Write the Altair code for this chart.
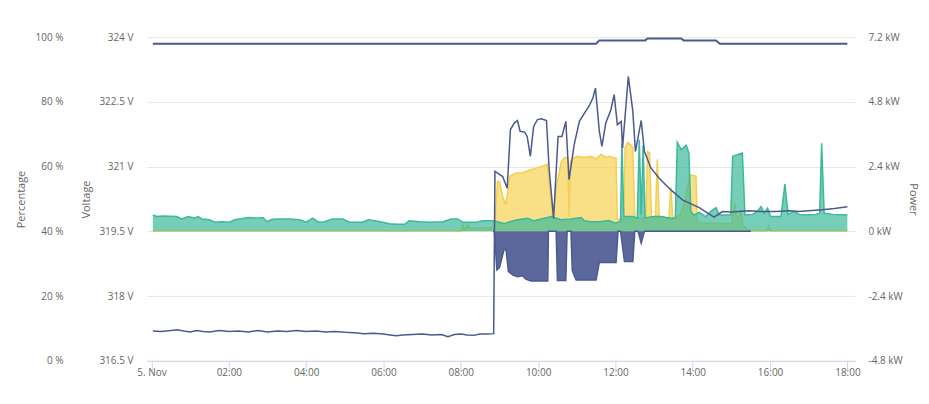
import altair as alt
import pandas as pd
from datetime import datetime

DAY = "2023-11-05"

# State of charge (%)
soc_time = ["00:02", "11:30", "11:35", "12:46", "12:50", "13:42", "13:46", "14:36", "14:42", "18:00"]
soc_pct = [98, 98, 99, 99, 99.6, 99.6, 99, 99, 98, 98]

# Voltage (V)
volt_time = ["00:02", "00:15", "00:30", "00:40", "00:50", "01:00", "01:10", "01:20", "01:30", "01:45",
             "02:00", "02:15", "02:30", "02:45", "03:00", "03:15", "03:30", "03:45", "04:00", "04:15",
             "04:30", "04:45", "05:00", "05:15", "05:30", "05:45", "06:00", "06:10", "06:20", "06:30",
             "06:45", "07:00", "07:15", "07:30", "07:40", "07:50", "08:00", "08:10", "08:20", "08:30",
             "08:40", "08:51", "08:53", "08:57", "09:05", "09:12", "09:17", "09:23", "09:28", "09:32",
             "09:39", "09:43", "09:48", "09:53", "09:59", "10:05", "10:13", "10:17", "10:24", "10:31",
             "10:37", "10:43", "10:48", "10:56", "11:04", "11:12", "11:19", "11:25", "11:29", "11:35",
             "11:39", "11:45", "11:53", "11:58", "12:03", "12:09", "12:11", "12:20", "12:27", "12:31",
             "12:40", "12:45", "12:55", "13:08", "13:26", "13:44", "14:10", "14:33", "14:46", "15:00",
             "15:28", "15:45", "16:09", "16:30", "16:45", "17:00", "17:21", "17:40", "18:00"]
volt_v = [317.19, 317.18, 317.20, 317.22, 317.19, 317.17, 317.20, 317.18, 317.17, 317.20,
          317.18, 317.19, 317.17, 317.20, 317.17, 317.19, 317.18, 317.20, 317.18, 317.19,
          317.17, 317.18, 317.16, 317.15, 317.13, 317.14, 317.12, 317.10, 317.08, 317.10,
          317.11, 317.12, 317.10, 317.11, 317.06, 317.11, 317.12, 317.10, 317.09, 317.12,
          317.12, 317.13, 320.89, 320.85, 320.77, 320.50, 321.86, 322.01, 322.07, 321.82,
          321.80, 321.70, 321.24, 321.93, 322.09, 322.11, 322.07, 320.97, 319.80, 321.70,
          321.70, 322.05, 320.70, 321.51, 322.05, 322.24, 322.40, 322.59, 322.82, 321.82,
          321.47, 322.01, 322.32, 322.67, 321.97, 322.05, 321.43, 323.09, 322.28, 321.35,
          322.07, 321.35, 320.97, 320.73, 320.46, 320.23, 320.05, 319.83, 319.96, 319.95,
          319.98, 319.96, 319.96, 319.98, 319.96, 319.98, 320.00, 320.03, 320.07]

# PV production (kW)
pv_time = ["00:02", "08:00", "08:03", "08:06", "08:11", "08:14", "08:30", "08:50", "08:53", "08:57",
           "09:00", "09:05", "09:10", "09:16", "09:26", "09:34", "09:44", "09:54", "10:05", "10:14",
           "10:23", "10:28", "10:36", "10:41", "10:46", "10:48", "10:50", "10:54", "11:01", "11:12",
           "11:22", "11:30", "11:38", "11:45", "11:50", "11:58", "12:01", "12:03", "12:13", "12:15",
           "12:19", "12:24", "12:27", "12:30", "12:47", "12:50", "12:53", "12:56", "13:02", "13:05",
           "13:08", "13:23", "13:26", "13:29", "13:40", "13:46", "13:52", "13:55", "14:05", "14:07",
           "14:20", "14:40", "15:00", "15:05", "15:09", "15:15", "15:18", "15:30", "15:55", "15:58",
           "16:01", "18:00"]
pv_kw = [0, 0, 0.25, 0.05, 0.25, 0.12, 0.12, 0.15, 0.3, 1.85,
         1.85, 1.29, 0.98, 2.04, 2.16, 2.16, 2.25, 2.32, 2.41, 2.49,
         0.45, 1.60, 2.59, 2.74, 2.72, 0.55, 2.60, 2.72, 2.78, 2.74,
         2.78, 2.69, 2.86, 2.74, 2.78, 2.72, 2.72, 0.45, 0.45, 3.10,
         3.30, 3.20, 3.10, 0.50, 0.50, 2.96, 2.90, 0.50, 0.50, 2.66,
         0.50, 0.50, 1.63, 0.50, 0.60, 1.00, 1.60, 2.10, 2.05, 0.35,
         0.30, 0.30, 0.28, 1.04, 0.40, 0.80, 0.20, 0, 0, 0.18,
         0, 0]

# Consumption (kW)
load_time = ["00:02", "00:08", "00:18", "00:39", "00:47", "00:57", "01:07", "01:12", "01:18", "01:30",
             "01:38", "01:49", "02:01", "02:09", "02:17", "02:30", "02:43", "02:53", "02:59", "03:06",
             "03:16", "03:34", "03:50", "04:00", "04:10", "04:18", "04:26", "04:41", "04:57", "05:07",
             "05:28", "05:36", "05:44", "05:59", "06:09", "06:20", "06:33", "06:40", "06:56", "07:11",
             "07:32", "07:45", "07:55", "08:03", "08:24", "08:34", "08:50", "09:00", "09:08", "09:16",
             "09:28", "09:44", "09:54", "10:05", "10:20", "10:36", "10:51", "11:07", "11:12", "11:22",
             "11:35", "11:50", "12:00", "12:06", "12:08", "12:10", "12:13", "12:27", "12:34", "12:37",
             "12:40", "12:43", "12:46", "12:58", "13:11", "13:26", "13:33", "13:36", "13:42", "13:50",
             "13:54", "13:57", "14:02", "14:10", "14:20", "14:28", "14:36", "14:41", "14:59", "15:02",
             "15:17", "15:21", "15:33", "15:40", "15:46", "15:51", "15:56", "16:01", "16:17", "16:23",
             "16:28", "16:37", "16:45", "16:55", "17:11", "17:17", "17:20", "17:24", "17:37", "18:00"]
load_kw = [0.61, 0.55, 0.57, 0.55, 0.46, 0.55, 0.49, 0.55, 0.46, 0.43,
           0.34, 0.36, 0.34, 0.43, 0.46, 0.51, 0.49, 0.51, 0.36, 0.44,
           0.46, 0.46, 0.43, 0.34, 0.49, 0.36, 0.34, 0.46, 0.46, 0.34,
           0.34, 0.43, 0.40, 0.34, 0.28, 0.26, 0.26, 0.39, 0.36, 0.34,
           0.36, 0.46, 0.46, 0.34, 0.34, 0.39, 0.39, 0.34, 0.28, 0.36,
           0.43, 0.49, 0.39, 0.46, 0.55, 0.43, 0.46, 0.51, 0.39, 0.36,
           0.36, 0.40, 0.30, 0.36, 0.40, 3.27, 0.55, 0.55, 0.50, 3.40,
           0.60, 3.20, 0.50, 0.55, 0.55, 0.49, 0.49, 3.30, 3.03, 3.19,
           2.90, 0.74, 0.60, 0.70, 0.55, 0.74, 0.88, 0.61, 0.61, 2.78,
           2.90, 0.61, 0.63, 0.74, 0.92, 0.67, 0.86, 0.55, 0.55, 1.75,
           0.63, 0.74, 0.63, 0.61, 0.63, 0.67, 3.27, 0.67, 0.63, 0.61]

# Battery (kW, negative = charging)
batt_time = ["08:50", "08:52", "08:56", "09:00", "09:07", "09:10", "09:14", "09:21", "09:28", "09:36",
             "09:41", "09:49", "10:15", "10:16", "10:28", "10:30", "10:43", "10:45", "10:51", "10:53",
             "10:59", "11:30", "11:35", "12:01", "12:04", "12:08", "12:14", "12:27", "12:30", "12:35",
             "12:40", "12:45", "15:30"]
batt_kw = [0, 0, -1.43, -1.34, -0.69, -0.65, -1.49, -1.62, -1.68, -1.65,
           -1.77, -1.84, -1.84, 0, 0, -1.82, -1.82, 0, 0, -1.45,
           -1.80, -1.80, -1.15, -1.15, 0, 0, -1.12, -1.12, 0, 0,
           -0.44, 0, 0]

pct_ticks = [0, 20, 40, 60, 80, 100]
volt_ticks = [316.5, 318, 319.5, 321, 322.5, 324]
power_ticks = [-4.8, -2.4, 0, 2.4, 4.8, 7.2]
hour_ticks = ["00:00", "02:00", "04:00", "06:00", "08:00", "10:00", "12:00", "14:00", "16:00", "18:00"]


def iso(t):
    return f"{DAY}T{t}:00Z"


def ms(s):
    return int(datetime.fromisoformat(s.replace("Z", "+00:00")).timestamp() * 1000)


def frame(times, values):
    return pd.DataFrame({"t": [iso(t) for t in times], "v": values})


x_domain = [ms("2023-11-04T23:52:44Z"), ms("2023-11-05T18:11:56Z")]
x_values = [ms(iso(t)) for t in hour_ticks]

x_enc = alt.X(
    "t:T",
    scale=alt.Scale(type="utc", domain=x_domain, nice=False),
    axis=alt.Axis(
        values=x_values,
        labelExpr="utchours(datum.value) == 0 ? '5. Nov' : utcFormat(datum.value, '%H:%M')",
        title=None,
        grid=False,
        domainColor="#ccd6eb",
        tickColor="#ccd6eb",
        tickSize=9,
        labelPadding=-2,
        labelFlush=False,
        labelOverlap=False,
    ),
)

power_scale = alt.Scale(domain=[-4.8, 7.2], nice=False, zero=False)
power_axis = alt.Axis(
    orient="right", values=power_ticks, labelExpr="datum.value + ' kW'",
    title="Power", grid=True, gridColor="#e6e6e6", domain=False, ticks=False, tickSize=0,
    labelPadding=13, titleX=57, titleY=162, titleAngle=90, titleAlign="center",
    titleBaseline="middle",
)

volt_axis = alt.Axis(
    orient="left", values=volt_ticks, labelExpr="datum.value + ' V'",
    title="Voltage", grid=False, domain=False, ticks=False, tickSize=0,
    labelPadding=14, titleX=-60, titleY=162, titleAngle=270, titleAlign="center",
    titleBaseline="middle",
)

pct_axis = alt.Axis(
    orient="left", offset=70, values=pct_ticks, labelExpr="datum.value + ' %'",
    title="Percentage", grid=False, domain=False, ticks=False, tickSize=0,
    labelPadding=14, titleX=-55, titleY=162, titleAngle=270, titleAlign="center",
    titleBaseline="middle",
)

y_power = alt.Y("v:Q", scale=power_scale, axis=power_axis)

pv_layer = alt.Chart(frame(pv_time, pv_kw)).mark_area(
    color="#f7d354", fillOpacity=0.7,
    line={"color": "#f3cf55", "strokeWidth": 1.5},
).encode(x=x_enc, y=y_power, y2=alt.datum(0))

load_layer = alt.Chart(frame(load_time, load_kw)).mark_area(
    color="#3cb99a", fillOpacity=0.7,
    line={"color": "#3cb99a", "strokeWidth": 1.5},
).encode(x=x_enc, y=y_power, y2=alt.datum(0))

batt_layer = alt.Chart(frame(batt_time, batt_kw)).mark_area(
    color="#3f4e8a", fillOpacity=0.85,
    line={"color": "#4a5a90", "strokeWidth": 1.5},
).encode(x=x_enc, y=y_power, y2=alt.datum(0))

power = alt.layer(pv_layer, load_layer, batt_layer)

volt_layer = alt.Chart(frame(volt_time, volt_v)).mark_line(
    color="#4a5a90", strokeWidth=1.5
).encode(
    x=x_enc,
    y=alt.Y("v:Q", scale=alt.Scale(domain=[316.5, 324], nice=False, zero=False), axis=volt_axis),
)

soc_layer = alt.Chart(frame(soc_time, soc_pct)).mark_line(
    color="#4a5a90", strokeWidth=2
).encode(
    x=x_enc,
    y=alt.Y("v:Q", scale=alt.Scale(domain=[0, 100], nice=False, zero=False), axis=pct_axis),
)

chart = (
    alt.layer(power, volt_layer, soc_layer)
    .resolve_scale(y="independent")
    .properties(
        width=709,
        height=324,
        padding={"left": 139, "top": 29, "right": 66, "bottom": 30},
        autosize=alt.AutoSizeParams(type="none"),
    )
    .configure_view(stroke=None)
    .configure_axis(
        labelFont="Open Sans", labelFontSize=10, labelColor="#666666",
        titleFont="Open Sans", titleFontSize=11, titleColor="#666666", titleFontWeight="normal",
    )
)

chart.save("out.html", embed_options={"renderer": "svg", "actions": False})
